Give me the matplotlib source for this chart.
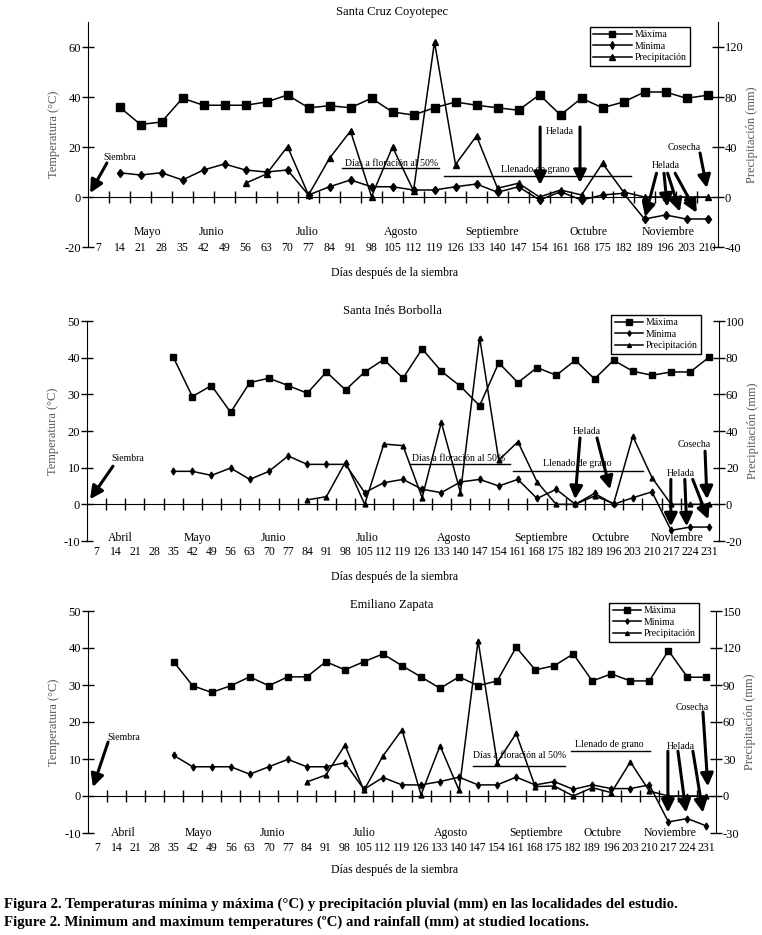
import numpy as np
import matplotlib.pyplot as plt
from matplotlib import transforms

plt.rcParams['font.family'] = ['Liberation Serif', 'DejaVu Serif']
plt.rcParams['axes.unicode_minus'] = False

nan = np.nan

# Santa Cruz Coyotepec (dias 7..210)
dias_1 = list(range(7, 211, 7))
maxima_1 = [nan, 36, 29, 30, 39.5, 36.7, 36.7, 36.7, 38, 40.8, 35.7, 36.5, 35.7, 39.5, 34,
            32.8, 35.7, 38, 36.7, 35.7, 34.7, 40.9, 32.8, 39.5, 35.7, 38, 42, 42, 39.5, 40.7]
minima_1 = [nan, 9.7, 8.8, 9.7, 6.8, 10.8, 13.2, 10.8, 10, 10.8, 0.8, 4.1, 6.8, 4.1, 4.1,
            2.8, 2.8, 4.1, 5.2, 1.9, 4.1, -1.2, 2.1, -1.2, 0.8, 1.5, -8.8, -7.2, -8.8, -8.8]
precip_1 = [nan, nan, nan, nan, nan, nan, nan, 11, 18.4, 40.3, 1.6, 31, 52.8, 0.3, 40,
            5, 124, 26, 48.8, 7, 11, 0, 5.6, 1.6, 27, 4, 0, 0, 0, 0]

# Santa Ines Borbolla (dias 7..231)
dias_2 = list(range(7, 232, 7))
maxima_2 = [nan, nan, nan, nan, 40.2, 29.4, 32.4, 25.1, 33.2, 34.4, 32.4, 30.3, 36.1, 31.2,
            36.1, 39.5, 34.4, 42.4, 36.3, 32.2, 26.9, 38.6, 33.2, 37.3, 35.2, 39.3, 34.2,
            39.3, 36.3, 35.2, 36.1, 36.1, 40.2]
minima_2 = [nan, nan, nan, nan, 9, 9, 7.9, 9.9, 6.8, 9, 13.2, 10.9, 10.9, 10.9, 3.2, 5.9,
            6.8, 4.1, 3.2, 6.1, 6.8, 5.0, 6.8, 1.6, 4.1, 0, 3.0, 0, 1.8, 3.4, -7.1, -6.2, -6.2]
precip_2 = [nan, nan, nan, nan, nan, nan, nan, nan, nan, nan, nan, 2.4, 4.2, 23.2, 0, 32.9,
            32, 3.6, 44.7, 6.4, 91, 24.1, 34.1, 12.2, 0, 0, 4.6, 0.5, 37.1, 14.6, 0, 0, 0]

# Emiliano Zapata (dias 7..231)
dias_3 = list(range(7, 232, 7))
maxima_3 = [nan, nan, nan, nan, 36.3, 29.8, 28, 29.8, 32.2, 29.8, 32.2, 32.2, 36.3, 34.1,
            36.3, 38.4, 35.2, 32.2, 29.1, 32.2, 29.8, 31.1, 40.2, 34.1, 35.2, 38.4, 31.1,
            33, 31.1, 31.1, 39.3, 32.1, 32.1]
minima_3 = [nan, nan, nan, nan, 11, 7.9, 7.9, 7.9, 5.9, 7.9, 9.9, 7.9, 7.9, 9, 1.8, 5, 3,
            3, 3.9, 5.1, 3, 3, 5.1, 3, 3.9, 1.8, 3, 2, 2, 3, -7, -6.1, -8.1]
precip_3 = [nan, nan, nan, nan, nan, nan, nan, nan, nan, nan, nan, 11.4, 17, 41.2, 4.6, 32.5,
            53.7, 1, 40.7, 4.6, 126, 27.1, 50.7, 7.6, 8.1, 0, 6.8, 2.7, 27.6, 4, 0, 0, 0]

meses_1 = ['Mayo', 'Junio', 'Julio', 'Agosto', 'Septiembre', 'Octubre', 'Noviembre']
meses_1_x = [23.2, 44.5, 76.4, 108.0, 138.0, 170.5, 197.0]
meses_23 = ['Abril', 'Mayo', 'Junio', 'Julio', 'Agosto', 'Septiembre', 'Octubre', 'Noviembre']
meses_2_x = [15.6, 43.7, 71.5, 105.8, 137.6, 169.4, 194.7, 219.1]
meses_3_x = [16.4, 44.3, 71.5, 105.0, 137.0, 168.3, 192.9, 217.5]

W, H = 762, 935
fig = plt.figure(figsize=(W / 100, H / 100), dpi=100)


def fy(py):
    return 1 - py / H


def fx(px):
    return px / W


def flecha(ax, x0, y0, x1, y1):
    ax.annotate('', xy=(x1, y1), xytext=(x0, y0),
                arrowprops=dict(arrowstyle='-|>,head_length=0.7,head_width=0.35',
                                lw=2.2, color='black', shrinkA=0, shrinkB=0,
                                mutation_scale=11))


def panel(rect, dias, tmax, tmin, prec, tlim, plim, tticks, pticks, titulo,
          meses, meses_x, y_mes, y_tick, y_xlabel, y_titulo, leg_xy, etiquetas, msize, hlen):
    ax = fig.add_axes(rect)
    ax2 = ax.twinx()
    ax.set_xlim(dias[0] - 3.5, dias[-1] + 3.5)
    ax.set_ylim(*tlim)
    ax2.set_ylim(*plim)
    ax.set_yticks(tticks)
    ax2.set_yticks(pticks)

    l1, = ax.plot(dias, tmax, color='black', lw=1.1, marker='s', ms=msize[0], label=etiquetas[0])
    l2, = ax.plot(dias, tmin, color='black', lw=1.1, marker='d', ms=msize[1], label=etiquetas[1])
    l3, = ax2.plot(dias, prec, color='black', lw=1.1, marker='^', ms=msize[2], label=etiquetas[2])

    for s in ['top', 'right']:
        ax.spines[s].set_visible(False)
    for s in ['top', 'left', 'bottom']:
        ax2.spines[s].set_visible(False)
    ax.spines['bottom'].set_position(('data', 0))
    ax.set_xticks(np.arange(dias[0] + 3.5, dias[-1] + 3.5, 7))
    ax.tick_params(axis='x', direction='inout', length=9, width=1, labelbottom=False)
    ax.tick_params(axis='y', direction='inout', length=8, width=1, labelsize=9, pad=1)
    ax2.tick_params(axis='y', direction='inout', length=8, width=1, labelsize=9, pad=1)

    tr = transforms.blended_transform_factory(ax.transData, fig.transFigure)
    for d in dias:
        ax.text(d, fy(y_tick), str(d), transform=tr, ha='center', va='center', fontsize=8.5)
    for m, x in zip(meses, meses_x):
        ax.text(x, fy(y_mes), m, transform=tr, ha='center', va='center', fontsize=8.5)

    fig.text(fx(395), fy(y_xlabel), 'Días después de la siembra', ha='center', va='center', fontsize=8.5)
    fig.text(fx(392), fy(y_titulo), titulo, ha='center', va='center', fontsize=9)
    ax.set_ylabel('Temperatura (°C)', color='#555555', fontsize=9, labelpad=3)
    ax2.set_ylabel('Precipitación (mm)', color='#555555', fontsize=9, labelpad=2)

    ax2.legend([l1, l2, l3], etiquetas, loc='upper right', bbox_to_anchor=(fx(leg_xy[0]), fy(leg_xy[1])),
               bbox_transform=fig.transFigure, fancybox=False, edgecolor='black', framealpha=1,
               fontsize=7, labelspacing=0.25, handlelength=hlen, handletextpad=0.3,
               borderpad=0.35, borderaxespad=0, markerscale=0.8)
    return ax


etq = ['Máxima', 'Mínima', 'Precipitación']

# ---- panel 1
ax = panel([fx(88), fy(247), 630 / W, 225 / H], dias_1, maxima_1, minima_1, precip_1,
           (-20, 70), (-40, 140), [-20, 0, 20, 40, 60], [-40, 0, 40, 80, 120],
           'Santa Cruz Coyotepec', meses_1, meses_1_x, 232, 248, 273, 12, (690, 27), etq,
           (5.5, 4.5, 5), 4.0)
ax.text(8.5, 16, 'Siembra', fontsize=7, va='center')
flecha(ax, 9.8, 13.6, 4.2, 1.6)
ax.text(89.2, 13.6, 'Días a floración al 50%', fontsize=7, va='center')
ax.plot([88.2, 120.5], [11.6, 11.6], color='black', lw=1)
ax.text(152.5, 10.8, 'Llenado de grano', fontsize=7, va='center', ha='center')
ax.plot([122.2, 184.5], [8.4, 8.4], color='black', lw=1)
ax.text(156.2, 26, 'Helada', fontsize=7, va='center')
flecha(ax, 154.2, 28, 154.2, 4.8)
flecha(ax, 167.5, 28, 167.5, 5.6)
ax.text(196.8, 20, 'Cosecha', fontsize=7, va='center')
flecha(ax, 207.5, 17.6, 209.8, 3.6)
ax.text(191.5, 12.4, 'Helada', fontsize=7, va='center')
flecha(ax, 193, 9.5, 189.2, -7.9)
flecha(ax, 195.5, 9.5, 196.6, -3.9)
flecha(ax, 196.7, 9.5, 200.8, -5.9)
flecha(ax, 199.2, 9.5, 206.4, -6.3)

# ---- panel 2
ax = panel([fx(87), fy(541), 632 / W, 220 / H], dias_2, maxima_2, minima_2, precip_2,
           (-10, 50), (-20, 100), [-10, 0, 10, 20, 30, 40, 50], [-20, 0, 20, 40, 60, 80, 100],
           'Santa Inés Borbolla', meses_23, meses_2_x, 538, 552, 577, 311, (701, 315), etq,
           (5, 3.5, 3.5), 2.9)
ax.text(12.3, 12.6, 'Siembra', fontsize=7, va='center')
flecha(ax, 13, 10.4, 4.6, 1.4)
ax.text(122.3, 12.6, 'Días a floración al 50%', fontsize=7, va='center')
ax.plot([121.6, 158.1], [11, 11], color='black', lw=1)
ax.text(182.6, 11, 'Llenado de grano', fontsize=7, va='center', ha='center')
ax.plot([159.2, 206.7], [9, 9], color='black', lw=1)
ax.text(181.1, 20, 'Helada', fontsize=7, va='center')
flecha(ax, 183.7, 18.1, 181.9, 1.4)
flecha(ax, 189.9, 18.1, 194.7, 4.1)
ax.text(219.5, 16.4, 'Cosecha', fontsize=7, va='center')
flecha(ax, 229.4, 14.5, 230.1, 1.4)
ax.text(215.5, 8.5, 'Helada', fontsize=7, va='center')
flecha(ax, 216.9, 6.8, 216.9, -6)
flecha(ax, 222, 6.8, 222.7, -6)
flecha(ax, 224.9, 6.8, 230.6, -4.1)

# ---- panel 3
ax = panel([fx(88), fy(833), 628 / W, 222 / H], dias_3, maxima_3, minima_3, precip_3,
           (-10, 50), (-30, 150), [-10, 0, 10, 20, 30, 40, 50], [-30, 0, 30, 60, 90, 120, 150],
           'Emiliano Zapata', meses_23, meses_3_x, 833, 848, 870, 605, (699, 603), etq,
           (5, 3.5, 3.5), 2.9)
ax.text(10.5, 15.9, 'Siembra', fontsize=7, va='center')
flecha(ax, 10.9, 14.6, 5.3, 2.4)
ax.text(145.1, 11, 'Días a floración al 50%', fontsize=7, va='center')
ax.plot([145.1, 178.9], [8, 8], color='black', lw=1)
ax.text(195.3, 14, 'Llenado de grano', fontsize=7, va='center', ha='center')
ax.plot([181.1, 210.2], [12.1, 12.1], color='black', lw=1)
ax.text(219.8, 23.8, 'Cosecha', fontsize=7, va='center')
flecha(ax, 229.7, 22.7, 231.5, 2.6)
ax.text(216.5, 13.5, 'Helada', fontsize=7, va='center')
flecha(ax, 216.8, 12.1, 216.8, -4.5)
flecha(ax, 220.5, 12.1, 223.5, -4.5)
flecha(ax, 226, 12.1, 229.7, -4.5)

fig.text(fx(4), fy(904), 'Figura 2. Temperaturas mínima y máxima (°C) y precipitación pluvial (mm) '
         'en las localidades del estudio.', fontsize=10.7, fontweight='bold', va='center')
fig.text(fx(4), fy(922), 'Figure 2. Minimum and maximum temperatures (ºC) and rainfall (mm) '
         'at studied locations.', fontsize=10.7, fontweight='bold', va='center')

fig.savefig('out.png', dpi=100)
